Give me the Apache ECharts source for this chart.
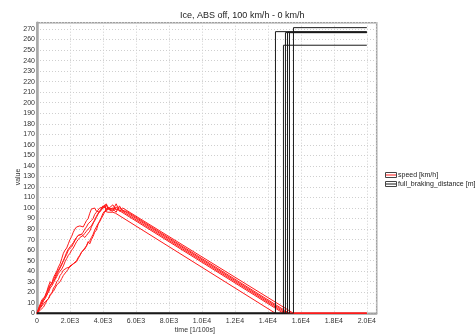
<!DOCTYPE html>
<html>
<head>
<meta charset="utf-8">
<script src="https://cdn.jsdelivr.net/npm/echarts@6/dist/echarts.min.js"></script>
<style>html,body{margin:0;padding:0;background:#fff}#c{width:475px;height:336px}</style>
</head>
<body>
<div id="c"></div>
<script>
// shared time grid of the acceleration phase [1/100s]
const timeGrid = [0,100,200,300,400,500,600,700,800,900,1000,1100,1200,1300,1400,1500,1600,1700,1800,1900,2000,2100,2200,2300,2400,2500,2600,2700,2800,2900,3000,3100,3200,3300,3400,3500,3600,3700,3800,3900,4000,4100,4200,4300,4400];
// speed [km/h] of each run on the time grid
const speedRun1 = [0,2,5,4,9,11,10,14,18,17,21,24,27,26,30,33,36,35,40,42,45,44,47,46,49,52,55,58,57,61,64,68,66,70,73,77,79,84,88,91,95,97,98,96,97];
const speedRun2 = [0,4,7,10,13,17,21,26,30,28,34,37,40,44,47,52,57,60,62,66,70,73,77,80,82,81,83,84,82,85,88,90,95,99,98,100,97,98,96,98,100,102,104,101,99];
const speedRun3 = [0,1,3,4,6,9,12,14,17,19,24,26,30,32,36,38,41,42,43,43,44,45,47,48,50,53,55,58,60,62,64,67,69,72,75,79,80,85,87,90,93,96,99,101,98];
const speedRun4 = [0,3,6,8,12,14,18,20,24,26,29,32,35,38,40,42,45,49,52,55,57,60,62,65,68,70,72,71,74,76,78,80,79,83,86,88,91,94,97,99,102,100,103,99,100];
const speedRun5 = [0,5,9,13,12,16,20,24,27,29,31,33,37,40,43,46,50,54,58,61,63,65,67,70,72,74,73,75,77,80,82,85,84,88,90,94,96,98,100,99,101,103,98,100,101];
const speedRun6 = [0,4,8,11,14,13,17,22,26,28,32,35,39,41,44,47,50,53,56,60,61,63,66,69,72,74,73,75,74,72,74,76,78,82,85,89,92,95,97,99,100,102,97,99,100];
// plateau points, the last one is the start of braking [time, speed]
const plateauRun1 = [[4600,96],[4767,95]];
const plateauRun2 = [[4600,100],[4800,99],[4945,98]];
const plateauRun3 = [[4600,97],[4800,101],[5000,98],[5169,97]];
const plateauRun4 = [[4600,103],[4800,98],[5000,100],[5088,99]];
const plateauRun5 = [[4600,99],[4800,96],[5000,102],[5200,97],[5411,97]];
const plateauRun6 = [[4600,98],[4800,104],[5000,97],[5200,100],[5246,101]];
// time where each run stops and its full braking distance [m]
const stopTime = [14461,14945,15067,15190,15309,15552];
const brakingDistance = [267.5,254.6,266.6,267,266.6,271.3];
const endTime = 20000;

const speedRuns = [speedRun1,speedRun2,speedRun3,speedRun4,speedRun5,speedRun6];
const plateauRuns = [plateauRun1,plateauRun2,plateauRun3,plateauRun4,plateauRun5,plateauRun6];

const FONT = 'Liberation Sans';
const series = [];
speedRuns.forEach((run, i) => {
  const data = timeGrid.map((t, k) => [t, run[k]]);
  plateauRuns[i].forEach(p => data.push(p));
  data.push([stopTime[i], 0]);
  data.push([endTime, 0]);
  series.push({
    name: 'speed [km/h]', type: 'line', data: data, symbol: 'none',
    lineStyle: {color: '#ff1a1a', width: 1}, itemStyle: {color: '#ff1a1a'},
    z: 2, silent: true, animation: false
  });
});
stopTime.forEach((t, i) => {
  series.push({
    name: 'full_braking_distance [m]', type: 'line', symbol: 'none',
    data: [[0,0],[t,0],[t,brakingDistance[i]],[endTime,brakingDistance[i]]],
    lineStyle: {color: '#1a1a1a', width: 1}, itemStyle: {color: '#1a1a1a'},
    z: 3, silent: true, animation: false
  });
});

const xFmt = v => v === 0 ? '0' : v.toExponential(1).replace('e+', 'E').toUpperCase();

const legendBase = {
  orient: 'vertical', left: 380, top: 166, itemWidth: 11, itemHeight: 5, itemGap: 1,
  selectedMode: false, symbolKeepAspect: false,
  data: ['speed [km/h]', 'full_braking_distance [m]']
};

const option = {
  animation: false,
  title: {
    text: 'Ice, ABS off, 100 km/h - 0 km/h', left: 180, top: 11, padding: 0,
    textStyle: {fontFamily: FONT, fontSize: 9, fontWeight: 'normal', color: '#222'}
  },
  legend: [
    Object.assign({}, legendBase, {
      icon: 'path://M0,2L12,2L12,3L0,3Z M0,0L0.01,0L0,0.01Z M12,5L11.99,5L12,4.99Z',
      itemStyle: {borderWidth: 0, borderColor: 'transparent', opacity: 1},
      textStyle: {fontFamily: FONT, fontSize: 7, color: '#222', lineHeight: 8, padding: [0,0,0,-3]}
    }),
    Object.assign({}, legendBase, {
      icon: 'path://M0,0L12,0L12,5L0,5Z',
      itemStyle: {color: 'transparent', borderColor: '#444', borderWidth: 1},
      textStyle: {fontFamily: FONT, fontSize: 7, color: 'transparent', lineHeight: 8, padding: [0,0,0,-3]}
    })
  ],
  grid: {
    left: 37, right: 98.3, top: 22.7, bottom: 22.7, containLabel: false, outerBoundsMode: 'none',
    show: true, borderColor: '#a0a0a0', borderWidth: 1.5, backgroundColor: '#fff'
  },
  xAxis: {
    type: 'value', min: 0, max: 20600, interval: 2000,
    name: 'time [1/100s]', nameLocation: 'middle', nameGap: 13, nameMoveOverlap: false,
    nameTextStyle: {fontFamily: FONT, fontSize: 7, color: '#333', padding: [0, 24, 0, 0]},
    axisLine: {lineStyle: {color: '#a0a0a0', width: 1.5}},
    axisTick: {show: false},
    axisLabel: {fontFamily: FONT, fontSize: 7, color: '#333', margin: 4, showMaxLabel: false,
      formatter: v => v % 2000 === 0 ? xFmt(v) : ''},
    splitLine: {lineStyle: {color: '#cfcfcf', type: [1, 2], width: 1}}
  },
  yAxis: {
    type: 'value', min: 0, max: 276, interval: 10,
    name: 'value', nameLocation: 'middle', nameGap: 15, nameRotate: 90, nameMoveOverlap: false,
    nameTextStyle: {fontFamily: FONT, fontSize: 7, color: '#333', padding: [0, 0, 0, -18]},
    axisLine: {lineStyle: {color: '#a8a8a8', width: 2.5}},
    axisTick: {show: false},
    axisLabel: {fontFamily: FONT, fontSize: 7, color: '#333', margin: 2, showMaxLabel: false,
      formatter: v => v % 10 === 0 ? String(v) : ''},
    splitLine: {lineStyle: {color: '#cfcfcf', type: [1, 2], width: 1}}
  },
  series: series
};

const chart = echarts.init(document.getElementById('c'), null, {renderer: 'canvas'});
chart.setOption(option);
</script>
</body>
</html>
